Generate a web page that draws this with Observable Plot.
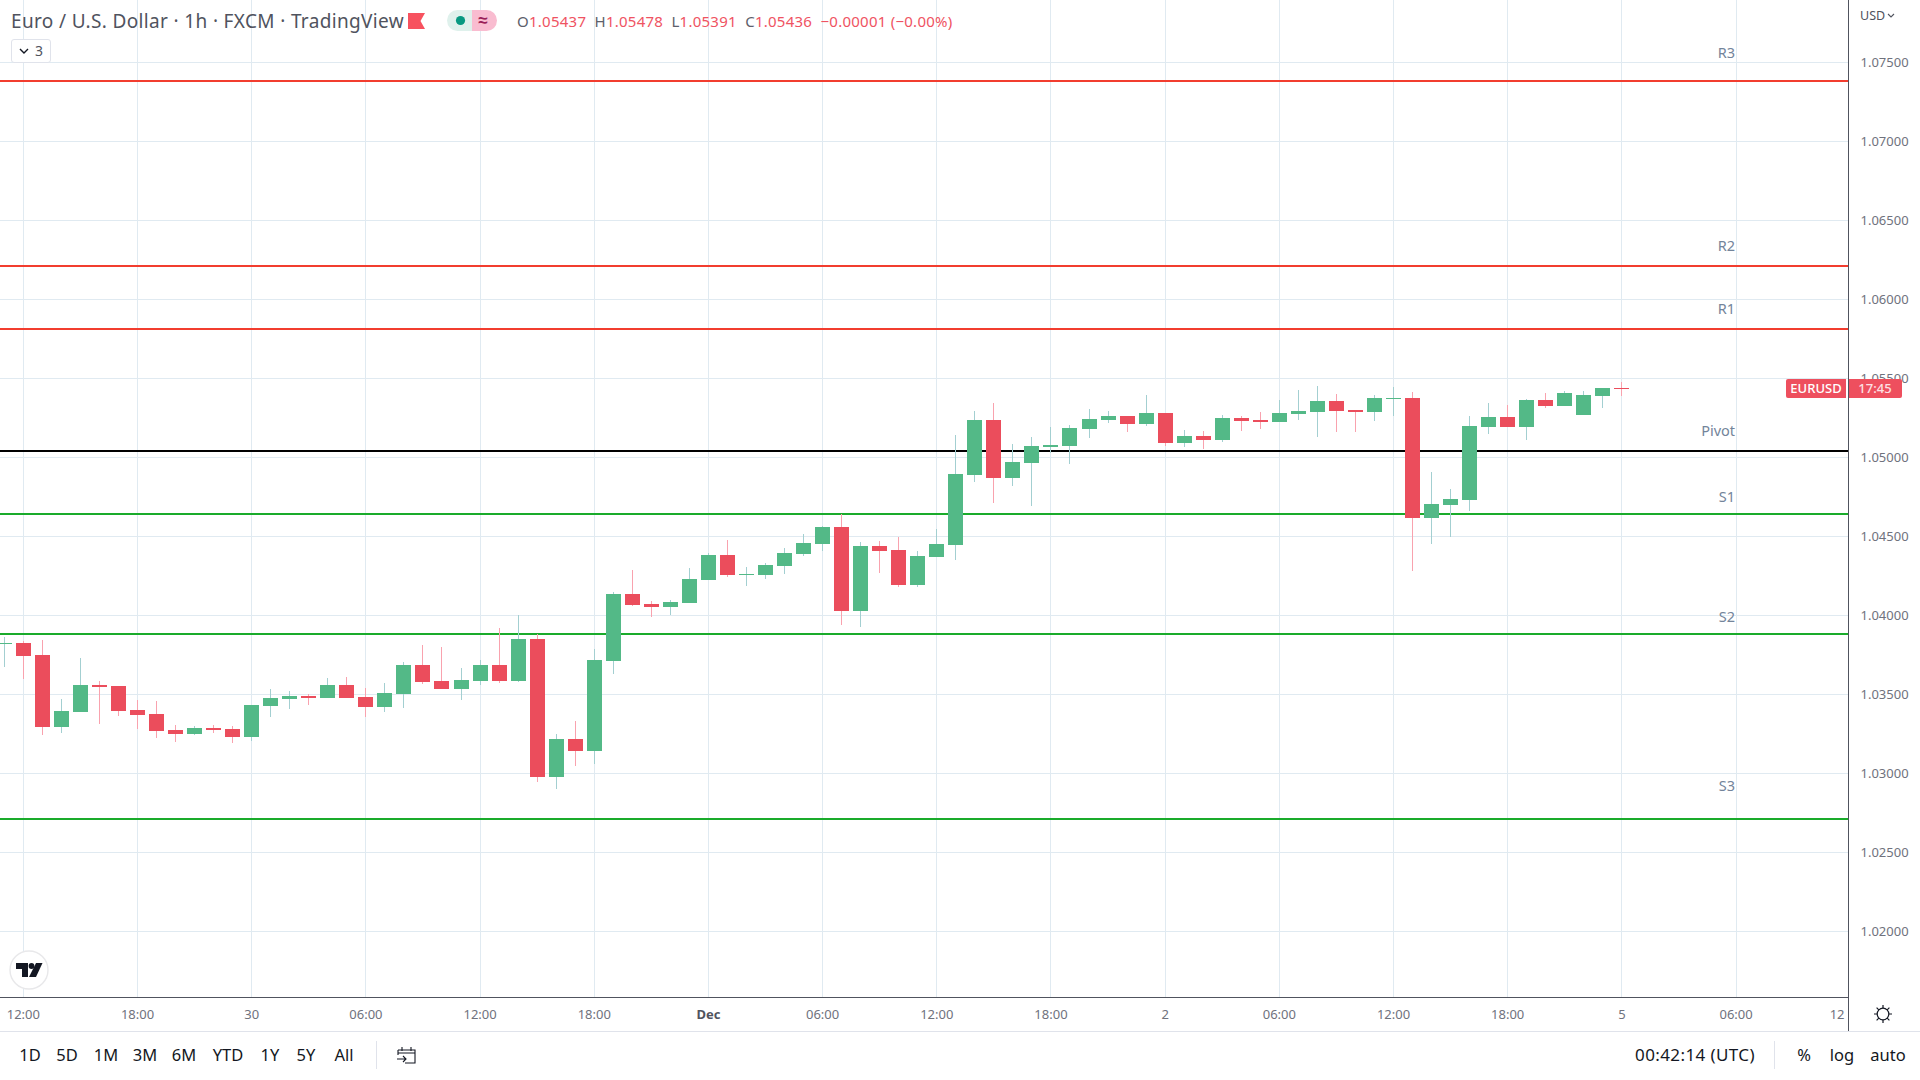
<!DOCTYPE html>
<html>
<head>
<meta charset="utf-8">
<script src="https://cdn.jsdelivr.net/npm/d3@7"></script>
<script src="https://cdn.jsdelivr.net/npm/@observablehq/plot@0.6"></script>
<style>
html,body{margin:0;padding:0;background:#fff;width:1920px;height:1080px;overflow:hidden;font-family:"Noto Sans",sans-serif;}
#wrap{position:relative;width:1920px;height:1080px;overflow:hidden;}
#chart{position:absolute;left:0;top:0;}
#chart svg{display:block;}
.o{position:absolute;white-space:nowrap;}
.tb{position:absolute;top:1045px;font-size:16.5px;line-height:20px;color:#131722;transform:translateX(-50%);white-space:nowrap;}
.r{color:#ef5362;}
.g{color:#5d606b;}
</style>
</head>
<body>
<div id="wrap">
<div id="chart"></div>

<div class="o" style="left:11px;top:9px;font-size:19px;line-height:24px;color:#50535e;letter-spacing:.35px">Euro / U.S. Dollar · 1h · FXCM · TradingView</div>
<svg class="o" style="left:408px;top:13px" width="17" height="16"><path d="M0 0H17L12.5 8L17 16H0Z" fill="#f7525f"/></svg>
<svg class="o" style="left:447px;top:10px" width="50" height="21">
  <path d="M10.5 0H25V21H10.5A10.5 10.5 0 0 1 10.5 0Z" fill="#dff1ec"/>
  <path d="M25 0H39.5A10.5 10.5 0 0 1 39.5 21H25Z" fill="#f9bcd0"/>
  <circle cx="13.5" cy="10.5" r="4.6" fill="#089981"/>
  <text x="36" y="16" text-anchor="middle" font-size="17" font-weight="700" fill="#9b1f57">≈</text>
</svg>
<div class="o" style="left:517px;top:11px;font-size:15px;line-height:20px;letter-spacing:.25px"><span class="g">O</span><span class="r">1.05437</span> <span class="g">&nbsp;H</span><span class="r">1.05478</span> <span class="g">&nbsp;L</span><span class="r">1.05391</span> <span class="g">&nbsp;C</span><span class="r">1.05436</span> <span class="r">&nbsp;−0.00001 (−0.00%)</span></div>
<div class="o" style="left:11px;top:39px;width:38px;height:22px;border:1px solid #e0e3eb;border-radius:3px;background:#fff;font-size:14px;line-height:22px;color:#131722"><svg style="position:absolute;left:7px;top:8px" width="10" height="7"><path d="M1 1L5 5L9 1" fill="none" stroke="#131722" stroke-width="1.4"/></svg><span style="position:absolute;left:23px;top:0;color:#50535e">3</span></div>

<div class="o" style="left:1860px;top:7px;font-size:12.5px;line-height:18px;color:#50535e">USD<svg style="margin-left:2px;vertical-align:2px" width="8" height="5"><path d="M1 1L4 4L7 1" fill="none" stroke="#50535e" stroke-width="1.1"/></svg></div>

<svg class="o" style="left:9px;top:950px" width="40" height="40">
  <circle cx="20" cy="20" r="19" fill="#fff" stroke="#e8e8ea" stroke-width="1.4"/>
  <path d="M7 13H19V27H13V19H7Z" fill="#131722"/>
  <circle cx="22.5" cy="16" r="2.9" fill="#131722"/>
  <path d="M27 13H33.5L27 27H20Z" fill="#131722"/>
</svg>

<div class="o" style="left:1786px;top:379px;width:60px;height:19px;background:#ee4f5e;border-radius:2px 0 0 2px;color:#fff;font-size:13px;line-height:19px;text-align:center;font-weight:500">EURUSD</div>
<div class="o" style="left:1848px;top:379px;width:54px;height:19px;background:#ee4f5e;border-radius:0 2px 2px 0;color:#fde0e4;font-size:13px;line-height:19px;text-align:center;font-weight:500">17:45</div>

<div class="o" style="left:0;top:997px;width:1849px;height:1px;background:#50535e"></div>
<div class="o" style="left:1848px;top:0;width:1px;height:1031px;background:#50535e"></div>
<div class="o" style="left:0;top:1031px;width:1920px;height:1px;background:#e0e3eb"></div>
<svg class="o" style="left:1873px;top:1004px" width="20" height="20" fill="none" stroke="#131722" stroke-width="1.2">
  <circle cx="10" cy="10" r="5.8"/>
  <path d="M10 1V4M10 16V19M1 10H4M16 10H19M3.6 3.6L5.8 5.8M14.2 14.2L16.4 16.4M3.6 16.4L5.8 14.2M14.2 5.8L16.4 3.6"/>
</svg>

<div class="tb" style="left:30px">1D</div><div class="tb" style="left:67px">5D</div><div class="tb" style="left:106px">1M</div><div class="tb" style="left:145px">3M</div><div class="tb" style="left:184px">6M</div><div class="tb" style="left:228px">YTD</div><div class="tb" style="left:270px">1Y</div><div class="tb" style="left:306px">5Y</div><div class="tb" style="left:344px">All</div>
<div class="o" style="left:376px;top:1041px;width:1px;height:28px;background:#e0e3eb"></div>
<svg class="o" style="left:396px;top:1045px" width="21" height="20" fill="none" stroke="#131722" stroke-width="1.1">
  <path d="M2 5H19V18H9M2 5V10M2 8H19M6 2V6M15 2V6M1 14H10M7 11L10 14L7 17"/>
</svg>
<div class="tb" style="left:1695px;font-size:17px;letter-spacing:.4px">00:42:14 (UTC)</div>
<div class="o" style="left:1774px;top:1041px;width:1px;height:28px;background:#e0e3eb"></div>
<div class="tb" style="left:1804px">%</div><div class="tb" style="left:1842px">log</div><div class="tb" style="left:1888px">auto</div>
</div>

<script>
// Hourly candles, Nov 29 11:00 (first) to Dec 5 00:00 (last), weekend removed
const opens = [1.03819,1.03825,1.03749,1.03293,1.03388,1.03559,1.03553,1.03401,1.03376,1.03274,1.03249,1.03287,1.03281,1.03230,1.03426,1.03470,1.03489,1.03477,1.03559,1.03483,1.03420,1.03502,1.03686,1.03584,1.03534,1.03584,1.03686,1.03584,1.03850,1.02977,1.03217,1.03141,1.03711,1.04135,1.04072,1.04053,1.04078,1.04224,1.04382,1.04255,1.04255,1.04312,1.04388,1.04452,1.04559,1.04028,1.04439,1.04414,1.04192,1.04369,1.04445,1.04888,1.05236,1.04869,1.04964,1.05065,1.05072,1.05179,1.05236,1.05262,1.05211,1.05281,1.05091,1.05135,1.05110,1.05249,1.05236,1.05224,1.05274,1.05287,1.05357,1.05300,1.05287,1.05369,1.05376,1.04616,1.04698,1.04730,1.05192,1.05255,1.05192,1.05363,1.05325,1.05268,1.05388,1.05437];
const highs = [1.03863,1.03838,1.03844,1.03470,1.03730,1.03584,1.03553,1.03464,1.03458,1.03306,1.03300,1.03306,1.03300,1.03432,1.03534,1.03521,1.03502,1.03603,1.03610,1.03540,1.03572,1.03705,1.03812,1.03800,1.03667,1.03717,1.03920,1.04002,1.03882,1.03249,1.03331,1.03787,1.04148,1.04287,1.04091,1.04097,1.04300,1.04395,1.04477,1.04306,1.04331,1.04426,1.04515,1.04566,1.04642,1.04464,1.04471,1.04496,1.04407,1.04547,1.05141,1.05293,1.05344,1.05084,1.05129,1.05192,1.05205,1.05306,1.05293,1.05262,1.05395,1.05281,1.05173,1.05167,1.05268,1.05262,1.05287,1.05363,1.05426,1.05452,1.05401,1.05300,1.05395,1.05445,1.05414,1.04907,1.04800,1.05262,1.05344,1.05331,1.05369,1.05407,1.05420,1.05420,1.05439,1.05478];
const lows = [1.03673,1.03597,1.03243,1.03255,1.03388,1.03312,1.03363,1.03281,1.03224,1.03198,1.03243,1.03255,1.03192,1.03205,1.03357,1.03407,1.03432,1.03477,1.03477,1.03357,1.03388,1.03413,1.03565,1.03534,1.03464,1.03559,1.03572,1.03578,1.02945,1.02901,1.03046,1.03059,1.03629,1.04059,1.03990,1.04002,1.04078,1.04224,1.04243,1.04186,1.04230,1.04262,1.04376,1.04407,1.03939,1.03926,1.04268,1.04179,1.04179,1.04369,1.04350,1.04844,1.04711,1.04819,1.04692,1.05030,1.04958,1.05122,1.05217,1.05160,1.05198,1.05072,1.05065,1.05053,1.05097,1.05167,1.05179,1.05224,1.05236,1.05129,1.05160,1.05160,1.05230,1.05262,1.04280,1.04451,1.04496,1.04660,1.05148,1.05192,1.05110,1.05312,1.05325,1.05268,1.05312,1.05391];
const closes = [1.03825,1.03743,1.03293,1.03394,1.03559,1.03546,1.03394,1.03369,1.03268,1.03249,1.03287,1.03274,1.03230,1.03432,1.03477,1.03489,1.03477,1.03559,1.03477,1.03420,1.03508,1.03686,1.03578,1.03534,1.03591,1.03686,1.03584,1.03850,1.02977,1.03217,1.03141,1.03717,1.04135,1.04065,1.04053,1.04084,1.04230,1.04382,1.04255,1.04262,1.04319,1.04395,1.04458,1.04559,1.04028,1.04439,1.04407,1.04192,1.04376,1.04452,1.04895,1.05236,1.04869,1.04970,1.05072,1.05078,1.05186,1.05243,1.05262,1.05211,1.05281,1.05091,1.05135,1.05110,1.05249,1.05230,1.05224,1.05281,1.05293,1.05357,1.05293,1.05287,1.05376,1.05376,1.04616,1.04705,1.04736,1.05198,1.05255,1.05192,1.05363,1.05325,1.05407,1.05395,1.05439,1.05436];

// Pivot levels and where their names sit
const levelNames = ["R3","R2","R1","Pivot","S1","S2","S3"];
const levelPrices = [1.07385,1.06214,1.05816,1.05044,1.04645,1.03887,1.02714];
const levelLabelPrices = [1.07557,1.06340,1.05937,1.05167,1.04749,1.03991,1.02922];
const levelColors = ["#f23d2f","#f23d2f","#f23d2f","#000000","#1aab2b","#1aab2b","#1aab2b"];

// Axes
const priceTicks = [1.02,1.025,1.03,1.035,1.04,1.045,1.05,1.055,1.06,1.065,1.07,1.075];
const timeTicks = [0,6,12,18,24,30,36,42,48,54,60,66,72,78,84,90];
const timeLabels = ["12:00","18:00","30","06:00","12:00","18:00","Dec","06:00","12:00","18:00","2","06:00","12:00","18:00","5","06:00"];
const clippedTimeLabel = "12";

const BODY_UP = "#53b987", BODY_DOWN = "#eb4d5c", WICK_UP = "#a3cfd1", WICK_DOWN = "#f9a2ae";
const GRID = "#e0eaf1", TEXT = "#6f727d", LEVEL_TEXT = "#73849a";

const bars = opens.map((o, k) => ({i: k - 1, o, h: highs[k], l: lows[k], c: closes[k]}));
const up = bars.filter(d => d.c >= d.o), down = bars.filter(d => d.c < d.o);
const doji = bars.filter(d => Math.abs(d.c - d.o) < 0.00006);
const levels = levelNames.map((name, k) => ({name, p: levelPrices[k], lp: levelLabelPrices[k], color: levelColors[k]}));

const wick = (data, stroke) => Plot.ruleX(data, {x: "i", y1: "l", y2: "h", stroke, strokeWidth: 1, shapeRendering: "crispEdges"});
const body = (data, stroke) => Plot.ruleX(data, {x: "i", y1: "o", y2: "c", stroke, strokeWidth: 15, shapeRendering: "crispEdges"});

const chart = Plot.plot({
  width: 1920, height: 1030,
  marginTop: 0, marginLeft: 0, marginRight: 72, marginBottom: 33,
  x: {type: "linear", domain: [-1.2, 95.909], axis: null},
  y: {type: "linear", domain: [1.015844, 1.078945], axis: null},
  style: {fontFamily: "'Noto Sans',sans-serif", fontSize: "13px", background: "#fff", overflow: "visible"},
  marks: [
    Plot.gridX({ticks: timeTicks, stroke: GRID, strokeOpacity: 1, strokeWidth: 1, shapeRendering: "crispEdges"}),
    Plot.gridY({ticks: priceTicks, stroke: GRID, strokeOpacity: 1, strokeWidth: 1, shapeRendering: "crispEdges"}),
    Plot.ruleY(levels, {y: "p", stroke: "color", strokeWidth: 2, shapeRendering: "crispEdges"}),
    wick(up, WICK_UP), wick(down, WICK_DOWN),
    body(up, BODY_UP), body(down, BODY_DOWN),
    Plot.ruleY(doji.filter(d => d.c >= d.o), {y: "c", x1: d => d.i - 0.394, x2: d => d.i + 0.394, stroke: BODY_UP, strokeWidth: 1, shapeRendering: "crispEdges"}),
    Plot.ruleY(doji.filter(d => d.c < d.o), {y: "c", x1: d => d.i - 0.394, x2: d => d.i + 0.394, stroke: BODY_DOWN, strokeWidth: 1, shapeRendering: "crispEdges"}),
    Plot.text(levels, {x: () => 90, y: "lp", text: "name", textAnchor: "end", dx: -1, fill: LEVEL_TEXT, fontSize: 14.5}),
    Plot.axisY({anchor: "right", ticks: priceTicks, tickFormat: d => d.toFixed(5), tickSize: 0, tickPadding: 12, label: null, fill: TEXT, fontSize: 13, textAnchor: "start"}),
    Plot.axisX({anchor: "bottom", ticks: timeTicks.filter((t, k) => timeLabels[k] !== "Dec"), tickFormat: d => timeLabels[timeTicks.indexOf(d)], tickSize: 0, tickPadding: 12, label: null, fill: TEXT, fontSize: 13}),
    Plot.axisX({anchor: "bottom", ticks: timeTicks.filter((t, k) => timeLabels[k] === "Dec"), tickFormat: d => timeLabels[timeTicks.indexOf(d)], tickSize: 0, tickPadding: 12, label: null, fill: "#50535e", fontSize: 13, fontWeight: 700}),
    Plot.axisX({anchor: "bottom", ticks: [95.7], tickFormat: () => clippedTimeLabel, tickSize: 0, tickPadding: 12, label: null, fill: TEXT, fontSize: 13, textAnchor: "end"})
  ]
});
document.getElementById("chart").appendChild(chart);
</script>
</body>
</html>
